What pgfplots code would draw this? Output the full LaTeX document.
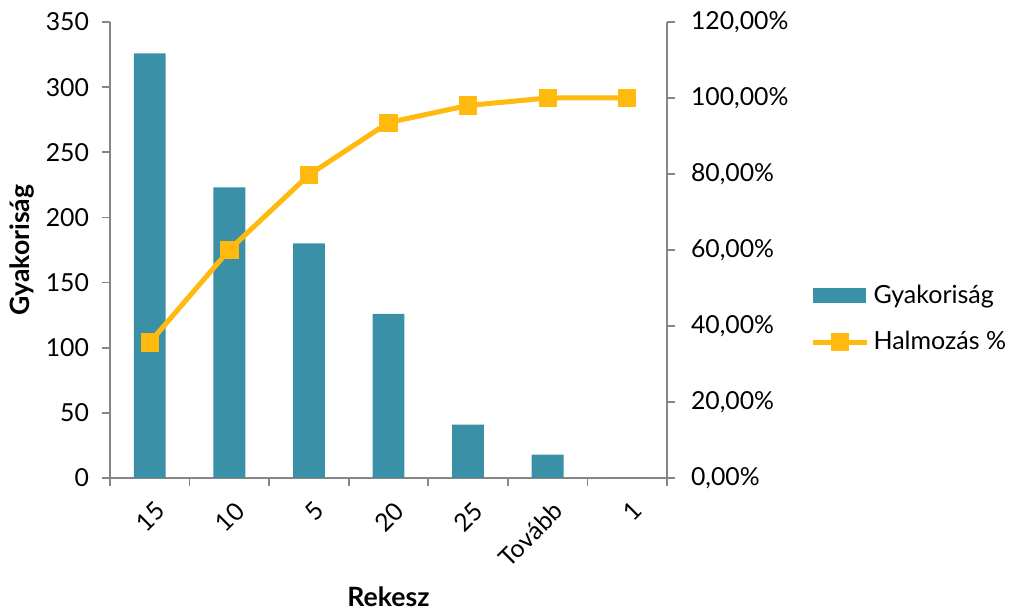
\documentclass[border=0pt]{standalone}
\usepackage{pgfplots}
\pgfplotsset{compat=1.18}
\usepackage{fontspec}
\setmainfont{Lato}

\definecolor{barblue}{RGB}{58,144,167}
\definecolor{lineorange}{RGB}{255,185,15}
\definecolor{axisgray}{RGB}{134,134,134}

\pgfplotsset{
  common/.style={
    at={(0pt,0pt)}, anchor=south west,
    scale only axis, width=278.5pt, height=228pt,
    xmin=-0.5, xmax=6.5,
    tick align=outside, major tick length=4pt,
    axis line style={axisgray, line width=0.8pt},
    tick style={axisgray, line width=0.8pt},
    tick label style={font=\fontsize{12.4}{14}\selectfont},
    /pgf/number format/assume math mode=true,
  },
  barlegend/.style={legend image code/.code={
    \fill[barblue] (0pt,-3.5pt) rectangle (26pt,3.5pt);}},
  linelegend/.style={legend image code/.code={
    \draw[mark repeat=2, mark phase=2, ##1]
      plot coordinates {(0pt,0pt) (13.5pt,0pt) (27pt,0pt)};}},
}

\begin{document}
\begin{tikzpicture}
\path[use as bounding box] (-55pt,-67.5pt) rectangle (449.5pt,239pt);

% bars: frequency
\begin{axis}[
  common,
  ymin=0, ymax=350,
  axis y line*=left, axis x line*=bottom,
  ytick={0,50,...,350},
  yticklabel style={xshift=-3pt},
  xtick={-0.5,0.5,...,6.5},
  xticklabels={15,10,5,20,25,Tovább,1},
  x tick label as interval,
  x tick label style={rotate=45, anchor=north east, yshift=-3pt},
  ylabel={Gyakoriság},
  ylabel style={at={(axis description cs:-0.158,0.5)}, anchor=center,
    font=\fontsize{13.3}{15}\selectfont\bfseries},
  xlabel={Rekesz},
  xlabel style={at={(axis description cs:0.5,-0.261)}, anchor=center,
    font=\fontsize{13.3}{15}\selectfont\bfseries},
]
\addplot[ybar, bar width=0.4, fill=barblue, draw=none] coordinates {
  (0,326) (1,223) (2,180) (3,126) (4,41) (5,18) (6,0)
};
\end{axis}

% line: cumulative percent
\begin{axis}[
  common,
  ymin=0, ymax=120,
  axis y line*=right, axis x line=none,
  ytick={0,20,...,120},
  yticklabels={{0,00\%},{20,00\%},{40,00\%},{60,00\%},{80,00\%},{100,00\%},{120,00\%}},
  yticklabel style={xshift=4.5pt},
  legend style={at={(1.257,0.349)}, anchor=west, draw=none, fill=none,
    inner sep=0pt, row sep=8.5pt, font=\fontsize{12.5}{14}\selectfont},
  legend cell align=left,
]
\addlegendimage{barlegend}
\addlegendentry{Gyakoriság}
\addplot[lineorange, line width=2.5pt, mark=square*,
  mark options={solid, line width=0.4pt}, mark size=4.3pt, linelegend]
  coordinates {
  (0,35.67) (1,60.07) (2,79.76) (3,93.54) (4,98.03) (5,100) (6,100)
};
\addlegendentry{Halmozás \%}
\end{axis}
\end{tikzpicture}
\end{document}
